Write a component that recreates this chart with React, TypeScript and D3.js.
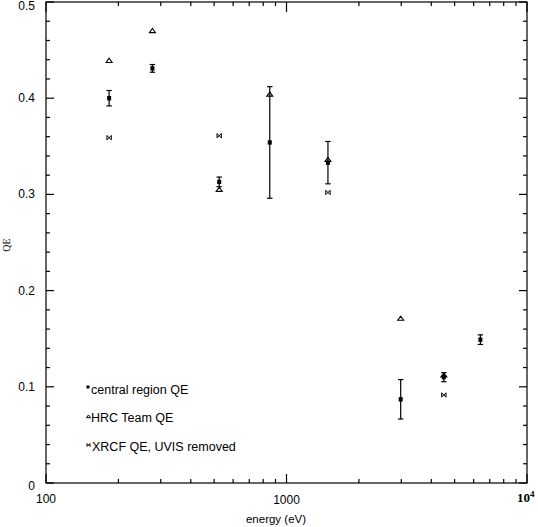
import React from "react";
import * as d3 from "d3";

const centralEnergy = [183, 277, 525, 852, 1487, 2984, 4510, 6400];
const centralQE = [0.4, 0.431, 0.313, 0.354, 0.333, 0.087, 0.11, 0.149];
const centralErr = [0.008, 0.004, 0.005, 0.058, 0.022, 0.0205, 0.0047, 0.005];

const hrcEnergy = [183, 277, 525, 852, 1487, 2984, 4510];
const hrcQE = [0.439, 0.47, 0.305, 0.404, 0.336, 0.171, 0.112];

const xrcfEnergy = [183, 525, 1487, 4510];
const xrcfQE = [0.359, 0.361, 0.302, 0.0915];

const yTicks = [0, 0.1, 0.2, 0.3, 0.4, 0.5];
const yTickLabels = ["0", "0.1", "0.2", "0.3", "0.4", "0.5"];
const xMajor = [100, 1000, 10000];
const legendLabels = ["central region QE", "HRC Team QE", "XRCF QE, UVIS removed"];

const W = 538;
const H = 527;
const L = 46, R = 527, T = 2, B = 483;

export default function App() {
  const x = d3.scaleLog().domain([100, 10000]).range([L, R]);
  const y = d3.scaleLinear().domain([0, 0.5]).range([B, T]);
  const font = "'Liberation Sans', Arial, Helvetica, sans-serif";
  const sw = 1.2;

  const xMinor: number[] = [];
  for (const dec of [100, 1000]) for (let k = 2; k <= 9; k++) xMinor.push(dec * k);
  const yMinor = d3.range(0, 0.5001, 0.02).filter((v) => Math.abs(v * 10 - Math.round(v * 10)) > 1e-6);

  const tri = (cx: number, cy: number, s = 3) =>
    `M${cx - s},${cy + s * 0.6}L${cx + s},${cy + s * 0.6}L${cx},${cy - s * 0.8}Z`;
  const xm = (cx: number, cy: number, s = 2.2) =>
    `M${cx - s},${cy - s}L${cx + s},${cy + s}M${cx - s},${cy + s}L${cx + s},${cy - s}M${cx - s},${cy - s}L${cx - s},${cy + s}M${cx + s},${cy - s}L${cx + s},${cy + s}`;

  return (
    <svg width={W} height={H} style={{ position: "absolute", left: 0, top: 0, background: "#fff" }}>
      <rect x={0} y={0} width={W} height={H} fill="#fff" />
      <g stroke="#000" strokeWidth={sw} fill="none">
        <rect x={L} y={T} width={R - L} height={B - T} />
        {yTicks.map((v) => (
          <g key={"ym" + v}>
            <line x1={L} x2={L + 8} y1={y(v)} y2={y(v)} />
            <line x1={R} x2={R - 8} y1={y(v)} y2={y(v)} />
          </g>
        ))}
        {yMinor.map((v) => (
          <g key={"yn" + v}>
            <line x1={L} x2={L + 4} y1={y(v)} y2={y(v)} />
            <line x1={R} x2={R - 4} y1={y(v)} y2={y(v)} />
          </g>
        ))}
        {xMajor.map((v) => (
          <g key={"xm" + v}>
            <line x1={x(v)} x2={x(v)} y1={B} y2={B - 9} />
            <line x1={x(v)} x2={x(v)} y1={T} y2={T + 10} />
          </g>
        ))}
        {xMinor.map((v) => (
          <g key={"xn" + v}>
            <line x1={x(v)} x2={x(v)} y1={B} y2={B - 4} />
            <line x1={x(v)} x2={x(v)} y1={T} y2={T + 4} />
          </g>
        ))}
      </g>

      <g fontFamily={font} fontSize={12} fill="#000">
        {yTicks.map((v, i) => {
          let yy = y(v) + 4;
          if (v === 0.5) yy = 10;
          if (v === 0) yy = 490;
          return (
            <text key={"yl" + v} x={35} y={yy} textAnchor="end">
              {yTickLabels[i]}
            </text>
          );
        })}
        <text x={x(100)} y={503} textAnchor="middle">100</text>
        <text x={x(1000)} y={504} textAnchor="middle">1000</text>
        <text x={517} y={502} fontFamily="'Liberation Serif', 'Times New Roman', serif" fontWeight="bold" fontSize={13}>
          10
          <tspan dy={-5} fontSize={9}>4</tspan>
        </text>
        <text x={276} y={523} textAnchor="middle" fontSize={11.5}>energy (eV)</text>
        <text
          transform="translate(10,245) rotate(-90)"
          textAnchor="middle"
          fontFamily="'Liberation Serif', 'Times New Roman', serif"
          fontSize={10}
        >
          QE
        </text>
      </g>

      {/* central region error bars and squares */}
      <g stroke="#000" strokeWidth={sw}>
        {centralEnergy.map((e, i) => {
          const cx = x(e);
          const y1 = y(centralQE[i] + centralErr[i]);
          const y2 = y(centralQE[i] - centralErr[i]);
          return (
            <g key={"c" + i}>
              <line x1={cx} x2={cx} y1={y1} y2={y2} />
              <line x1={cx - 2.7} x2={cx + 2.7} y1={y1} y2={y1} />
              <line x1={cx - 2.7} x2={cx + 2.7} y1={y2} y2={y2} />
            </g>
          );
        })}
      </g>
      <g fill="#000">
        {centralEnergy.map((e, i) => (
          <rect key={"cs" + i} x={x(e) - 2} y={y(centralQE[i]) - 2.2} width={4} height={4.4} />
        ))}
      </g>
      <g stroke="#000" strokeWidth={1.1} fill="none">
        {hrcEnergy.map((e, i) => (
          <path key={"h" + i} d={tri(x(e), y(hrcQE[i]))} />
        ))}
        {xrcfEnergy.map((e, i) => (
          <path key={"x" + i} d={xm(x(e), y(xrcfQE[i]))} strokeWidth={1} />
        ))}
      </g>

      {/* legend */}
      <g fontFamily={font} fontSize={12.5} fill="#000">
        <rect x={86.5} y={385.5} width={3} height={3} fill="#000" />
        <text x={91} y={394}>{legendLabels[0]}</text>
        <path d={tri(88.5, 416.5, 2)} stroke="#000" strokeWidth={1} fill="none" />
        <text x={91} y={422}>{legendLabels[1]}</text>
        <path d={xm(88.5, 445, 1.5)} stroke="#000" strokeWidth={0.9} fill="none" />
        <text x={92} y={451}>{legendLabels[2]}</text>
      </g>
    </svg>
  );
}
